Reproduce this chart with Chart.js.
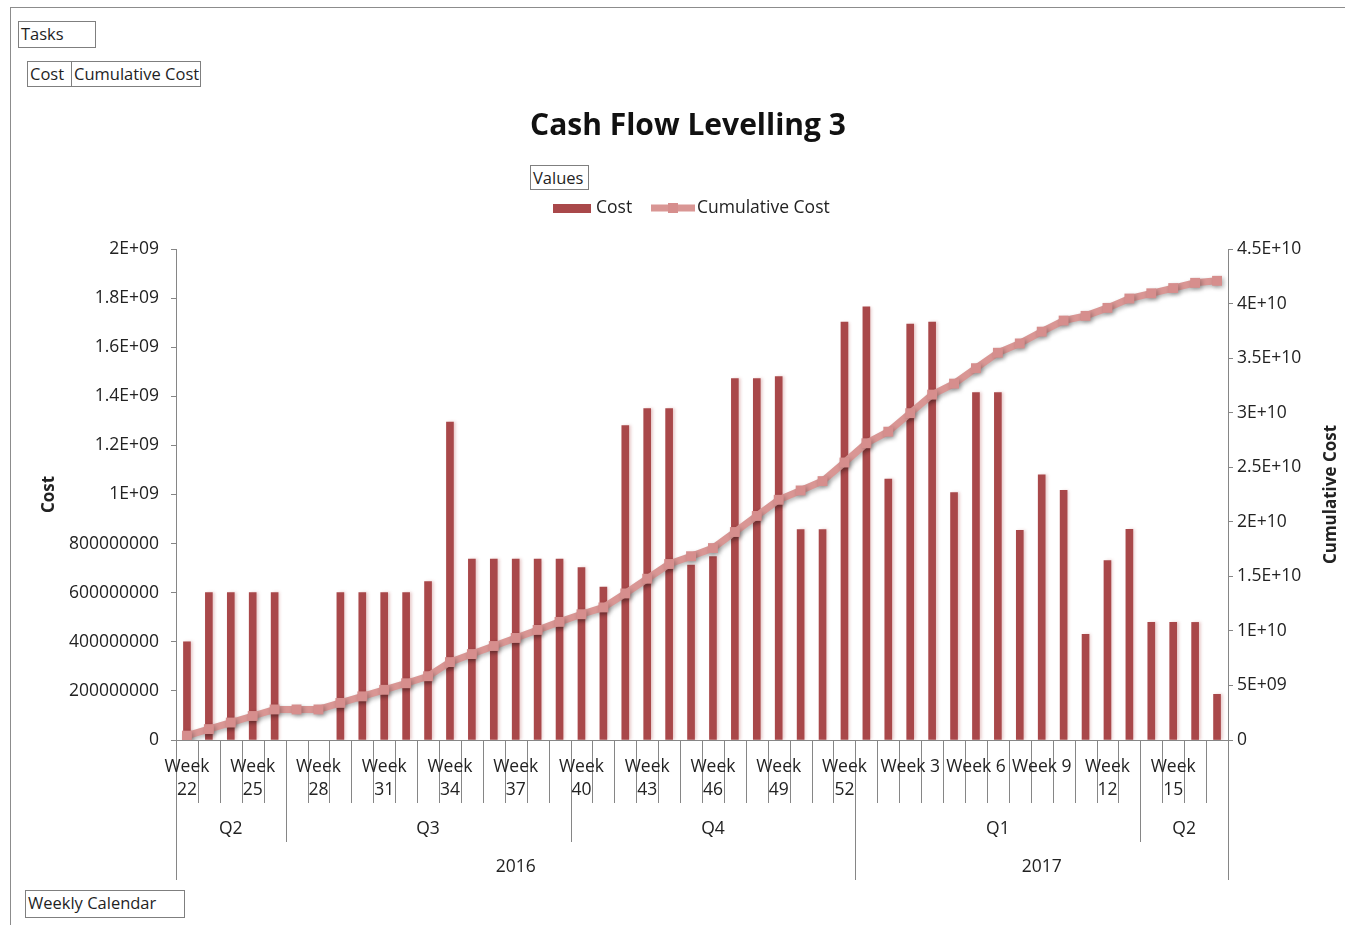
<!DOCTYPE html>
<html>
<head>
<meta charset="utf-8">
<title>Cash Flow Levelling 3</title>
<script src="https://cdn.jsdelivr.net/npm/chart.js@4.4.1/dist/chart.umd.min.js"></script>
<style>
  html, body { margin: 0; padding: 0; background: #fff; overflow: hidden; }
  #wrap { position: relative; width: 1345px; height: 925px; }
  #frame { position: absolute; left: 10px; top: 7px; width: 1400px; height: 1000px; border: 1px solid #8c8c8c; box-sizing: border-box; }
  canvas { position: absolute; left: 0; top: 0; }
  .btn { position: absolute; border: 1px solid #7f7f7f; box-sizing: border-box; background: #fff;
         font: 16.5px 'Open Sans', sans-serif; color: #1f1f1f; line-height: 24px; padding: 0 2px; white-space: nowrap; }
</style>
</head>
<body>
<div id="wrap">
  <div id="frame"></div>
  <canvas id="chart" width="1345" height="925"></canvas>
  <div class="btn" style="left:18px;top:21px;width:78px;height:27px">Tasks</div>
  <div class="btn" style="left:27px;top:61px;width:45px;height:26px">Cost</div>
  <div class="btn" style="left:71px;top:61px;width:130px;height:26px">Cumulative Cost</div>
  <div class="btn" style="left:530px;top:165px;width:59px;height:25px">Values</div>
  <div class="btn" style="left:25px;top:890px;width:160px;height:28px">Weekly Calendar</div>
</div>
<script>
/* ---------- data ---------- */
const weekLabels = [
  'Week 22','Week 23','Week 24','Week 25','Week 26','Week 27','Week 28','Week 29','Week 30','Week 31',
  'Week 32','Week 33','Week 34','Week 35','Week 36','Week 37','Week 38','Week 39','Week 40','Week 41',
  'Week 42','Week 43','Week 44','Week 45','Week 46','Week 47','Week 48','Week 49','Week 50','Week 51',
  'Week 52','Week 1','Week 2','Week 3','Week 4','Week 5','Week 6','Week 7','Week 8','Week 9',
  'Week 10','Week 11','Week 12','Week 13','Week 14','Week 15','Week 16','Week 17'
];
// weeks 27 and 28 have no cost entry
const cost = [
  400e6, 600e6, 600e6, 600e6, 600e6, null, null, 600e6, 600e6, 600e6, 600e6, 645e6,
  1295e6, 737e6, 737e6, 737e6, 737e6, 737e6, 702e6, 623e6, 1281e6, 1350e6, 1350e6, 713e6,
  747e6, 1472e6, 1472e6, 1480e6, 857e6, 857e6, 1702e6, 1764e6, 1063e6, 1694e6, 1702e6, 1008e6,
  1415e6, 1415e6, 854e6, 1080e6, 1017e6, 430e6, 731e6, 858e6, 479e6, 479e6, 479e6, 186e6
];
const cumulativeCost = [
  400e6, 1000e6, 1600e6, 2200e6, 2800e6, 2800e6, 2800e6, 3400e6, 4000e6, 4600e6, 5200e6, 5845e6,
  7140e6, 7877e6, 8614e6, 9351e6, 10088e6, 10825e6, 11527e6, 12150e6, 13431e6, 14781e6, 16131e6, 16844e6,
  17591e6, 19063e6, 20535e6, 22015e6, 22872e6, 23729e6, 25431e6, 27195e6, 28258e6, 29952e6, 31654e6, 32662e6,
  34077e6, 35492e6, 36346e6, 37426e6, 38443e6, 38873e6, 39604e6, 40462e6, 40941e6, 41420e6, 41899e6, 42085e6
];
const quarterLabels = ['Q2', 'Q3', 'Q4', 'Q1', 'Q2'];
const quarterSpans = [5, 13, 13, 13, 4];
const yearLabels = ['2016', '2017'];
const yearSpans = [31, 17];
const weekLabelStep = 3;

/* ---------- style ---------- */
const FONT = "'Open Sans', sans-serif";
const TEXT = '#222';
const AXIS = '#868686';
const BAR = '#a9484a';
const LINE = '#d99694';

// Excel "General" number format as seen on the axes
const excelGeneral = v => {
  if (v === 0) return '0';
  if (Math.abs(v) < 1e9) return String(Math.round(v));
  const e = Math.floor(Math.log10(Math.abs(v)) + 1e-9);
  const m = +(v / Math.pow(10, e)).toFixed(2);
  return m + 'E+' + String(e).padStart(2, '0');
};

/* multi-level category axis: weeks / quarters / years */
const axisLevels = {
  id: 'axisLevels',
  afterDraw(chart) {
    const { ctx, chartArea } = chart;
    const x = chart.scales.x;
    const step = x.getPixelForValue(1) - x.getPixelForValue(0);
    const edge = i => x.getPixelForValue(i) - step / 2;
    const base = chartArea.bottom;
    const vline = (px, y2) => {
      const xx = Math.round(px) + 0.5;
      ctx.beginPath(); ctx.moveTo(xx, base); ctx.lineTo(xx, y2); ctx.stroke();
    };
    ctx.save();
    ctx.strokeStyle = AXIS; ctx.lineWidth = 1;
    for (let i = 0; i <= weekLabels.length; i++) vline(edge(i), base + 63);
    let acc = 0;
    vline(edge(0), base + 102);
    quarterSpans.forEach(n => { acc += n; vline(edge(acc), base + 102); });
    acc = 0;
    vline(edge(0), base + 140);
    yearSpans.forEach(n => { acc += n; vline(edge(acc), base + 140); });

    ctx.fillStyle = TEXT;
    ctx.font = '17.5px ' + FONT;
    ctx.textAlign = 'center'; ctx.textBaseline = 'middle';
    const maxW = step * weekLabelStep - 4;
    weekLabels.forEach((lab, i) => {
      if (i % weekLabelStep) return;
      const cx = x.getPixelForValue(i);
      if (ctx.measureText(lab).width > maxW) {
        const parts = lab.split(' ');
        ctx.fillText(parts[0], cx, base + 27);
        ctx.fillText(parts[1], cx, base + 50);
      } else {
        ctx.fillText(lab, cx, base + 27);
      }
    });
    acc = 0;
    quarterLabels.forEach((q, k) => {
      const mid = (edge(acc) + edge(acc + quarterSpans[k])) / 2;
      ctx.fillText(q, mid, base + 89);
      acc += quarterSpans[k];
    });
    acc = 0;
    yearLabels.forEach((yl, k) => {
      const mid = (edge(acc) + edge(acc + yearSpans[k])) / 2;
      ctx.fillText(yl, mid, base + 127);
      acc += yearSpans[k];
    });

    // right axis title reads bottom-to-top in Excel
    const y1 = chart.scales.y1;
    ctx.font = 'bold 17px ' + FONT;
    ctx.translate(1331, (y1.top + y1.bottom) / 2);
    ctx.rotate(-Math.PI / 2);
    ctx.fillText('Cumulative Cost', 0, 0);
    ctx.restore();
  }
};

/* title + legend, placed like the Excel pivot chart */
const headerBlock = {
  id: 'headerBlock',
  afterDraw(chart) {
    const { ctx } = chart;
    const [barDs, lineDs] = chart.data.datasets;
    ctx.save();
    ctx.fillStyle = '#111';
    ctx.font = 'bold 30px ' + FONT;
    ctx.textAlign = 'center'; ctx.textBaseline = 'middle';
    ctx.fillText('Cash Flow Levelling 3', 688, 126);

    ctx.font = '17.5px ' + FONT;
    ctx.textAlign = 'left';
    ctx.fillStyle = barDs.backgroundColor;
    ctx.fillRect(553, 204, 38, 9);
    ctx.fillStyle = TEXT;
    ctx.fillText(barDs.label, 596, 208);

    ctx.strokeStyle = lineDs.borderColor;
    ctx.lineWidth = 7;
    ctx.beginPath(); ctx.moveTo(651, 208); ctx.lineTo(695, 208); ctx.stroke();
    ctx.fillStyle = lineDs.pointBackgroundColor;
    ctx.fillRect(668, 203, 10, 10);
    ctx.fillStyle = TEXT;
    ctx.fillText(lineDs.label, 697, 208);
    ctx.restore();
  }
};

/* soft Excel-like shadow under the series */
const seriesShadow = {
  id: 'seriesShadow',
  beforeDatasetDraw(chart, args) {
    const ctx = chart.ctx;
    ctx.save();
    if (args.meta.type === 'line') {
      ctx.shadowColor = 'rgba(0,0,0,0.28)'; ctx.shadowBlur = 4; ctx.shadowOffsetX = 2; ctx.shadowOffsetY = 2;
    } else {
      ctx.shadowColor = 'rgba(170,60,60,0.25)'; ctx.shadowBlur = 3; ctx.shadowOffsetX = 2; ctx.shadowOffsetY = 0;
    }
  },
  afterDatasetDraw(chart) { chart.ctx.restore(); }
};

const tickFont = { family: FONT, size: 17.5 };
const titleFont = { family: FONT, size: 17, weight: 'bold' };

new Chart(document.getElementById('chart'), {
  type: 'bar',
  data: {
    labels: weekLabels,
    datasets: [
      {
        type: 'bar', label: 'Cost', data: cost, yAxisID: 'y',
        backgroundColor: BAR, barThickness: 7, order: 2
      },
      {
        type: 'line', label: 'Cumulative Cost', data: cumulativeCost, yAxisID: 'y1',
        borderColor: LINE, backgroundColor: LINE, borderWidth: 7, tension: 0,
        pointStyle: 'rect', pointRadius: 7, pointBackgroundColor: '#d68e8d', pointBorderWidth: 0,
        order: 1
      }
    ]
  },
  options: {
    responsive: false,
    animation: false,
    layout: { padding: { left: 10, right: 0, top: 249, bottom: 185 } },
    plugins: { legend: { display: false }, title: { display: false }, tooltip: { enabled: false } },
    scales: {
      x: {
        ticks: { display: false },
        grid: { display: false, drawTicks: false },
        border: { display: true, color: AXIS }
      },
      y: {
        position: 'left', min: 0, max: 2e9,
        ticks: { stepSize: 2e8, callback: v => excelGeneral(v), font: tickFont, color: TEXT, padding: 12 },
        grid: { drawOnChartArea: false, drawTicks: true, tickLength: 5, color: AXIS },
        border: { color: AXIS },
        title: { display: true, text: 'Cost', font: titleFont, color: TEXT, padding: { top: 29, bottom: 0 } },
        afterFit: s => { s.width = 166; }
      },
      y1: {
        position: 'right', min: 0, max: 4.5e10,
        ticks: { stepSize: 5e9, callback: v => excelGeneral(v), font: tickFont, color: TEXT, padding: 4 },
        grid: { drawOnChartArea: false, drawTicks: true, tickLength: 5, color: AXIS },
        border: { color: AXIS },
        afterFit: s => { s.width = 117; }
      }
    }
  },
  plugins: [seriesShadow, axisLevels, headerBlock]
});
</script>
</body>
</html>
